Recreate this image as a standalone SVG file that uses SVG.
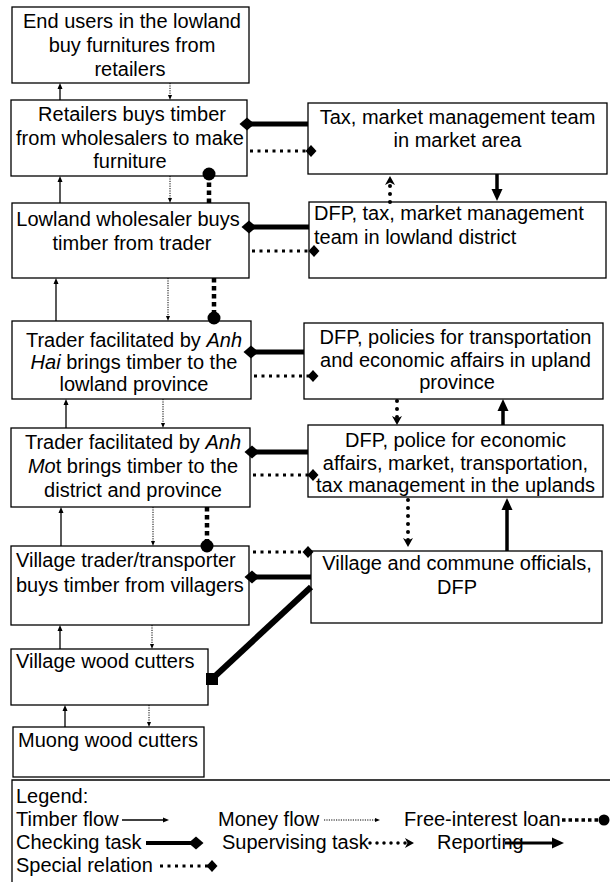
<svg xmlns="http://www.w3.org/2000/svg" width="610" height="882" viewBox="0 0 610 882">
<style>
.box{fill:#fff;stroke:#000;stroke-width:1.3}
.t{font-family:"Liberation Sans",Arial,sans-serif;font-size:20px;fill:#000}
.c{text-anchor:middle}
.i{font-style:italic}
.timber{stroke:#000;stroke-width:1.3;fill:none;marker-end:url(#hTimber)}
.money{stroke:#000;stroke-width:1;stroke-dasharray:1.2 1.2;fill:none;marker-end:url(#hMoney)}
.loan{stroke:#000;stroke-width:4.5;stroke-dasharray:4.5 3.5;fill:none;marker-end:url(#mCircle)}
.check{stroke:#000;stroke-width:5;fill:none;marker-end:url(#dBig)}
.special{stroke:#000;stroke-width:3;stroke-dasharray:3 4.5;fill:none;marker-end:url(#dSmall)}
.sup{stroke:#000;stroke-width:4;stroke-linecap:round;stroke-dasharray:0 8;fill:none;marker-end:url(#hSup)}
.report{stroke:#000;stroke-width:3.5;fill:none;marker-end:url(#hReport)}
.diag{stroke:#000;stroke-width:6;fill:none;marker-end:url(#mSquare)}
</style>
<defs>
<marker id="hTimber" markerUnits="userSpaceOnUse" markerWidth="20" markerHeight="20" overflow="visible" orient="auto"><path d="M-1,-2.5 L5,0 L-1,2.5 z" fill="#000"/></marker>
<marker id="hMoney" markerUnits="userSpaceOnUse" markerWidth="20" markerHeight="20" overflow="visible" orient="auto"><path d="M-1,-2 L4,0 L-1,2 z" fill="#000"/></marker>
<marker id="mCircle" markerUnits="userSpaceOnUse" markerWidth="20" markerHeight="20" overflow="visible" orient="auto"><circle cx="0" cy="0" r="6.5" fill="#000"/></marker>
<marker id="dBig" markerUnits="userSpaceOnUse" markerWidth="20" markerHeight="20" overflow="visible" orient="auto"><path d="M-7.5,0 L0,-6.5 L7.5,0 L0,6.5 z" fill="#000"/></marker>
<marker id="dSmall" markerUnits="userSpaceOnUse" markerWidth="20" markerHeight="20" overflow="visible" orient="auto"><path d="M-5.5,0 L0,-6 L5.5,0 L0,6 z" fill="#000"/></marker>
<marker id="hSup" markerUnits="userSpaceOnUse" markerWidth="20" markerHeight="20" overflow="visible" orient="auto"><path d="M-3,-5 L6,0 L-3,5 L-0.5,0 z" fill="#000"/></marker>
<marker id="hReport" markerUnits="userSpaceOnUse" markerWidth="20" markerHeight="20" overflow="visible" orient="auto"><path d="M-1,-5.5 L11,0 L-1,5.5 z" fill="#000"/></marker>
<marker id="mSquare" markerUnits="userSpaceOnUse" markerWidth="20" markerHeight="20" overflow="visible" orient="0"><rect x="-6" y="-6" width="12" height="12" fill="#000"/></marker>
</defs>

<g id="end-users">
<rect class="box" x="12" y="7" width="237" height="76"/>
<text class="t c" x="132" y="28">End users in the lowland</text>
<text class="t c" x="132" y="52">buy furnitures from</text>
<text class="t c" x="130" y="76">retailers</text>
</g>
<g id="retailers">
<rect class="box" x="11" y="100" width="236" height="76"/>
<text class="t c" x="132" y="121">Retailers buys timber</text>
<text class="t c" x="130" y="144.5">from wholesalers to make</text>
<text class="t c" x="130" y="168">furniture</text>
</g>
<g id="wholesaler">
<rect class="box" x="12" y="203" width="237" height="75"/>
<text class="t c" x="128" y="226">Lowland wholesaler buys</text>
<text class="t c" x="132" y="249.5">timber from trader</text>
</g>
<g id="trader-anh-hai">
<rect class="box" x="12" y="321" width="239" height="78"/>
<text class="t c" x="134" y="347">Trader facilitated by <tspan class="i">Anh</tspan></text>
<text class="t c" x="134" y="369"><tspan class="i">Hai</tspan> brings timber to the</text>
<text class="t c" x="134" y="391">lowland province</text>
</g>
<g id="trader-anh-mot">
<rect class="box" x="11" y="428" width="239" height="79"/>
<text class="t c" x="133" y="449">Trader facilitated by <tspan class="i">Anh</tspan></text>
<text class="t c" x="133" y="473"><tspan class="i">Mo</tspan>t brings timber to the</text>
<text class="t c" x="133" y="497">district and province</text>
</g>
<g id="village-trader">
<rect class="box" x="11" y="546" width="238" height="79"/>
<text class="t" x="16" y="567">Village trader/transporter</text>
<text class="t" x="16" y="591.5">buys timber from villagers</text>
</g>
<g id="village-cutters">
<rect class="box" x="11" y="649" width="197" height="56"/>
<text class="t" x="16" y="668">Village wood cutters</text>
</g>
<g id="muong-cutters">
<rect class="box" x="13" y="727" width="191" height="50"/>
<text class="t" x="18" y="747">Muong wood cutters</text>
</g>

<g id="tax-market">
<rect class="box" x="308" y="103" width="299" height="71"/>
<text class="t c" x="457.5" y="123.5">Tax, market management team</text>
<text class="t c" x="457.5" y="147">in market area</text>
</g>
<g id="dfp-lowland">
<rect class="box" x="309" y="202" width="297" height="76"/>
<text class="t" x="314" y="220">DFP, tax, market management</text>
<text class="t" x="314" y="244">team in lowland district</text>
</g>
<g id="dfp-upland-province">
<rect class="box" x="304" y="323" width="299" height="76"/>
<text class="t c" x="455.5" y="343.5">DFP, policies for transportation</text>
<text class="t c" x="455.5" y="366.5">and economic affairs in upland</text>
<text class="t c" x="457" y="389">province</text>
</g>
<g id="dfp-police">
<rect class="box" x="308" y="425" width="295" height="72"/>
<text class="t c" x="455.5" y="447">DFP, police for economic</text>
<text class="t c" x="455.5" y="470">affairs, market, transportation,</text>
<text class="t c" x="455.5" y="492">tax management in the uplands</text>
</g>
<g id="village-officials">
<rect class="box" x="311" y="551" width="291" height="72"/>
<text class="t c" x="457" y="569.5">Village and commune officials,</text>
<text class="t c" x="457" y="594">DFP</text>
</g>

<g id="connectors">
<!-- timber flow -->
<line class="timber" x1="60" y1="100" x2="60" y2="88"/>
<line class="timber" x1="60" y1="203" x2="60" y2="181"/>
<line class="timber" x1="56" y1="321" x2="56" y2="283"/>
<line class="timber" x1="66" y1="428" x2="66" y2="404"/>
<line class="timber" x1="61" y1="546" x2="61" y2="512"/>
<line class="timber" x1="60" y1="649" x2="60" y2="630"/>
<line class="timber" x1="65" y1="727" x2="65" y2="710"/>
<!-- money flow -->
<line class="money" x1="170" y1="83" x2="170" y2="96"/>
<line class="money" x1="170" y1="176" x2="170" y2="199"/>
<line class="money" x1="168" y1="278" x2="168" y2="317"/>
<line class="money" x1="163" y1="399" x2="163" y2="424"/>
<line class="money" x1="153" y1="507" x2="153" y2="542"/>
<line class="money" x1="152" y1="625" x2="152" y2="645"/>
<line class="money" x1="149" y1="705" x2="149" y2="723"/>
<!-- free-interest loan -->
<line class="loan" x1="209" y1="203" x2="209" y2="174"/>
<line class="loan" x1="214" y1="278" x2="214" y2="318"/>
<line class="loan" x1="207" y1="507" x2="207" y2="546"/>
<!-- checking task -->
<line class="check" x1="308" y1="124" x2="247" y2="124"/>
<line class="check" x1="309" y1="227" x2="249" y2="227"/>
<line class="check" x1="304" y1="352" x2="251" y2="352"/>
<line class="check" x1="308" y1="452" x2="252" y2="452"/>
<line class="check" x1="311" y1="577" x2="252" y2="577"/>
<line class="diag" x1="311" y1="587" x2="212" y2="679"/>
<!-- special relation -->
<line class="special" x1="250" y1="151" x2="311" y2="151"/>
<line class="special" x1="252" y1="251" x2="314" y2="251"/>
<line class="special" x1="254" y1="376" x2="313" y2="376"/>
<line class="special" x1="253" y1="475" x2="313" y2="475"/>
<line class="special" x1="253" y1="552" x2="308" y2="552"/>
<!-- supervising task -->
<line class="sup" x1="390" y1="202" x2="390" y2="182"/>
<line class="sup" x1="397" y1="401" x2="397" y2="419"/>
<line class="sup" x1="408" y1="500" x2="408" y2="541"/>
<!-- reporting -->
<line class="report" x1="497" y1="174" x2="497" y2="190"/>
<line class="report" x1="503" y1="425" x2="503" y2="410"/>
<line class="report" x1="507" y1="551" x2="507" y2="509"/>
</g>

<g id="legend">
<path d="M12,884 V780 H612" fill="none" stroke="#000" stroke-width="1.3"/>
<text class="t" x="16" y="803">Legend:</text>
<text class="t" x="16" y="826">Timber flow</text>
<line class="timber" x1="122" y1="820" x2="164" y2="820"/>
<text class="t" x="218" y="826">Money flow</text>
<line class="money" x1="324" y1="820" x2="376" y2="820"/>
<text class="t" x="404" y="826">Free-interest loan</text>
<line class="loan" x1="562" y1="820" x2="604" y2="820" style="stroke-width:3.5;stroke-dasharray:3.5 3;marker-end:none"/>
<circle cx="604" cy="820" r="5.5" fill="#000"/>
<text class="t" x="16" y="849">Checking task</text>
<line class="check" x1="146" y1="843" x2="196" y2="843" style="stroke-width:4"/>
<text class="t" x="222" y="849">Supervising task</text>
<line class="sup" x1="370" y1="843" x2="408" y2="843" style="stroke-width:3.5;stroke-dasharray:0 7"/>
<text class="t" x="437" y="849">Reporting</text>
<line class="report" x1="505" y1="843" x2="553" y2="843" style="stroke-width:3"/>
<text class="t" x="16" y="872">Special relation</text>
<line class="special" x1="160" y1="866" x2="212" y2="866"/>
</g>
</svg>
